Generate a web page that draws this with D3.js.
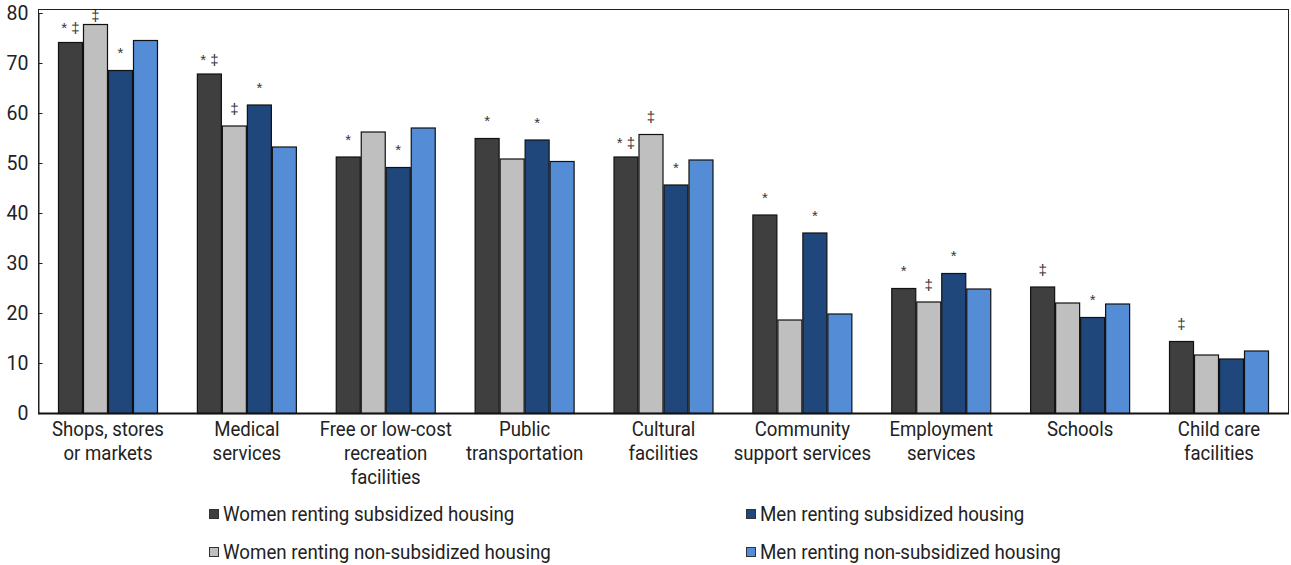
<!DOCTYPE html>
<html>
<head>
<meta charset="utf-8">
<script src="https://cdn.jsdelivr.net/npm/d3@7"></script>
<style>
  html, body { margin: 0; padding: 0; background: #fff; }
  svg text { font-family: Roboto, "Liberation Sans", Arial, sans-serif; fill: #222; }
  svg text.mark { font-family: "Liberation Sans", Arial, sans-serif; }
</style>
</head>
<body>
<svg id="chart" width="1291" height="565"></svg>
<script>
const categories = [
  ["Shops, stores", "or markets"],
  ["Medical", "services"],
  ["Free or low-cost", "recreation", "facilities"],
  ["Public", "transportation"],
  ["Cultural", "facilities"],
  ["Community", "support services"],
  ["Employment", "services"],
  ["Schools"],
  ["Child care", "facilities"]
];
const seriesNames = [
  "Women renting subsidized housing",
  "Women renting non-subsidized housing",
  "Men renting subsidized housing",
  "Men renting non-subsidized housing"
];
const womenSubsidized    = [74.2, 67.9, 51.3, 55.0, 51.3, 39.7, 25.0, 25.3, 14.4];
const womenNonSubsidized = [77.8, 57.5, 56.3, 50.9, 55.8, 18.7, 22.3, 22.1, 11.7];
const menSubsidized      = [68.6, 61.7, 49.2, 54.7, 45.7, 36.1, 28.0, 19.2, 10.9];
const menNonSubsidized   = [74.6, 53.3, 57.1, 50.4, 50.7, 19.9, 24.9, 21.9, 12.5];
const womenSubsidizedMarks    = ["* ‡", "* ‡", "*", "*", "* ‡", "*", "*", "‡", "‡"];
const womenNonSubsidizedMarks = ["‡", "‡", "", "", "‡", "", "‡", "", ""];
const menSubsidizedMarks      = ["*", "*", "*", "*", "*", "*", "*", "*", ""];
const menNonSubsidizedMarks   = ["", "", "", "", "", "", "", "", ""];
const yTicks = [0, 10, 20, 30, 40, 50, 60, 70, 80];
const colors = ["#3f3f3f", "#bfbfbf", "#1f477c", "#548dd6"];

const seriesValues = [womenSubsidized, womenNonSubsidized, menSubsidized, menNonSubsidized];
const seriesMarks = [womenSubsidizedMarks, womenNonSubsidizedMarks, menSubsidizedMarks, menNonSubsidizedMarks];

const svg = d3.select("#chart");
const plotLeft = 38, plotRight = 1289, plotTop = 9, plotBottom = 413;

const catKeys = categories.map((c, i) => i);
const x0 = d3.scaleBand().domain(catKeys).range([plotLeft, plotRight]).paddingInner(0.28).paddingOuter(0.144);
const x1 = d3.scaleBand().domain(d3.range(4)).range([0, x0.bandwidth()]).padding(0);
const y = d3.scaleLinear().domain([0, 80]).range([plotBottom, 13]);

// frame
svg.append("rect")
  .attr("x", plotLeft + 0.5).attr("y", plotTop + 0.5)
  .attr("width", plotRight - plotLeft - 1).attr("height", plotBottom - plotTop)
  .attr("fill", "none").attr("stroke", "#222").attr("stroke-width", 1);

// y axis
const yAxis = d3.axisLeft(y).tickValues(yTicks).tickSize(-4).tickPadding(10).tickFormat(d3.format("d"));
const gy = svg.append("g").attr("transform", `translate(${plotLeft + 0.5},0)`).call(yAxis);
gy.select(".domain").attr("stroke", "#222");
gy.selectAll(".tick line").attr("stroke", "#222");
gy.selectAll(".tick text").style("font-size", "19.5px").style("fill", "#222");

// bars
const groups = svg.append("g").selectAll("g")
  .data(catKeys).join("g")
  .attr("transform", d => `translate(${x0(d)},0)`);

groups.selectAll("rect")
  .data(ci => seriesValues.map((vals, si) => ({ si, v: vals[ci], m: seriesMarks[si][ci] })))
  .join("rect")
  .attr("x", d => x1(d.si) + 0.5)
  .attr("y", d => y(d.v) + 0.5)
  .attr("width", x1.bandwidth() - 1)
  .attr("height", d => y(0) - y(d.v))
  .attr("fill", d => colors[d.si])
  .attr("stroke", "#111")
  .attr("stroke-width", 1.2);

groups.selectAll("text.mark")
  .data(ci => seriesValues.map((vals, si) => ({ si, v: vals[ci], m: seriesMarks[si][ci] })).filter(d => d.m))
  .join("text")
  .attr("class", "mark")
  .attr("x", d => x1(d.si) + x1.bandwidth() / 2)
  .attr("y", d => Math.max(y(d.v) - (d.m.length > 1 ? 9 : 12), 21))
  .attr("text-anchor", "middle")
  .style("font-size", "15px")
  .style("fill", "#333")
  .text(d => d.m);

// bottom axis line
svg.append("line")
  .attr("x1", plotLeft).attr("x2", plotRight)
  .attr("y1", plotBottom + 0.5).attr("y2", plotBottom + 0.5)
  .attr("stroke", "#111").attr("stroke-width", 2);

// category labels (slightly condensed horizontally)
const labels = svg.append("g").selectAll("text")
  .data(catKeys).join("text")
  .attr("transform", d => `translate(${x0(d) + x0.bandwidth() / 2},436) scale(0.93,1)`)
  .attr("text-anchor", "middle")
  .style("font-size", "20px");
labels.selectAll("tspan")
  .data(d => categories[d].map((line, i) => ({ line, i })))
  .join("tspan")
  .attr("x", 0)
  .attr("dy", d => d.i === 0 ? 0 : 24)
  .text(d => d.line);

// legend
const legendPos = [
  { x: 209, y: 514 }, { x: 209, y: 552 },
  { x: 746, y: 514 }, { x: 746, y: 552 }
];
const legend = svg.append("g").selectAll("g")
  .data(seriesNames.map((name, i) => ({ name, i })))
  .join("g")
  .attr("transform", d => `translate(${legendPos[d.i].x},${legendPos[d.i].y})`);
legend.append("rect")
  .attr("x", 0.5).attr("y", -4.5).attr("width", 9).attr("height", 9)
  .attr("fill", d => colors[d.i]).attr("stroke", "#333").attr("stroke-width", 1);
legend.append("text")
  .attr("transform", "translate(14,7) scale(0.96,1)")
  .style("font-size", "19.5px")
  .text(d => d.name);
</script>
</body>
</html>
